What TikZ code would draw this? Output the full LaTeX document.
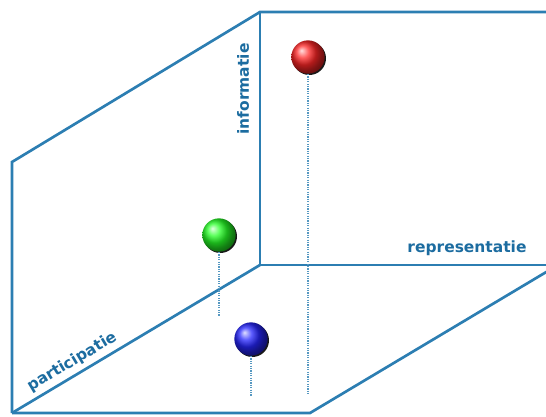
\documentclass[tikz,border=0pt]{standalone}
\usepackage{fontspec}
\newfontfamily\axisfont{DejaVu Sans}
\usetikzlibrary{positioning,shadows}
\definecolor{frameblue}{RGB}{44,126,178}
\definecolor{labelblue}{RGB}{28,108,160}

\begin{document}
\begin{tikzpicture}[x=0.75pt,y=-0.75pt,
  edge/.style={frameblue,line width=2pt,line join=miter},
  axis/.style={labelblue,font=\axisfont\bfseries\fontsize{11.6}{13}\selectfont,inner sep=0pt},
  pin/.style={frameblue!80,line width=1.5pt,dash pattern=on 1pt off 0.8pt},
  bead/.style={circle,inner sep=0pt,minimum size=25pt,shading=ball,ball color=#1,
    drop shadow={shadow xshift=1pt,shadow yshift=-1pt,fill=black,opacity=0.9}}]
% back-x, horizon-y, top-y
\newcommand{\bkx}{260}
\newcommand{\hzy}{265}
\newcommand{\tpy}{12}
% front-left-x, front-top-y, bottom-y, bottom-right-x
\newcommand{\flx}{12}
\newcommand{\fty}{162}
\newcommand{\bty}{413}
\newcommand{\brx}{310}
\useasboundingbox (0,0) rectangle (546,417);

% Box
\draw[edge] (\flx,\bty)--(\flx,\fty)--(\bkx,\tpy)--(560,\tpy);
\draw[edge] (\bkx,\tpy)--(\bkx,\hzy)--(560,\hzy);
\draw[edge] (\flx,\bty)--(\bkx,\hzy);
\draw[edge] (\flx,\bty)--(\brx,\bty)--(\brx+248,\hzy);

% Axes
\node[axis,rotate=90] (info) at (243,89) {informatie};
\node[axis] (repr) at (467,248) {representatie};
\node[axis,rotate=30.8] (part) at (72,362) {participatie};

% Balls
\node[bead=red!85!white] (red) at (308,57) {};
\node[bead=green!85!white] (green) at (219,235) {};
\node[bead=blue!85!white] (blue) at (251,339) {};
\coordinate (redfoot) at (308,395);
\coordinate (greenfoot) at (219,316);
\coordinate (bluefoot) at (251,396);
\draw[pin] (red.south)--(redfoot);
\draw[pin] (green.south)--(greenfoot);
\draw[pin] (blue.south)--(bluefoot);
\end{tikzpicture}
\end{document}
